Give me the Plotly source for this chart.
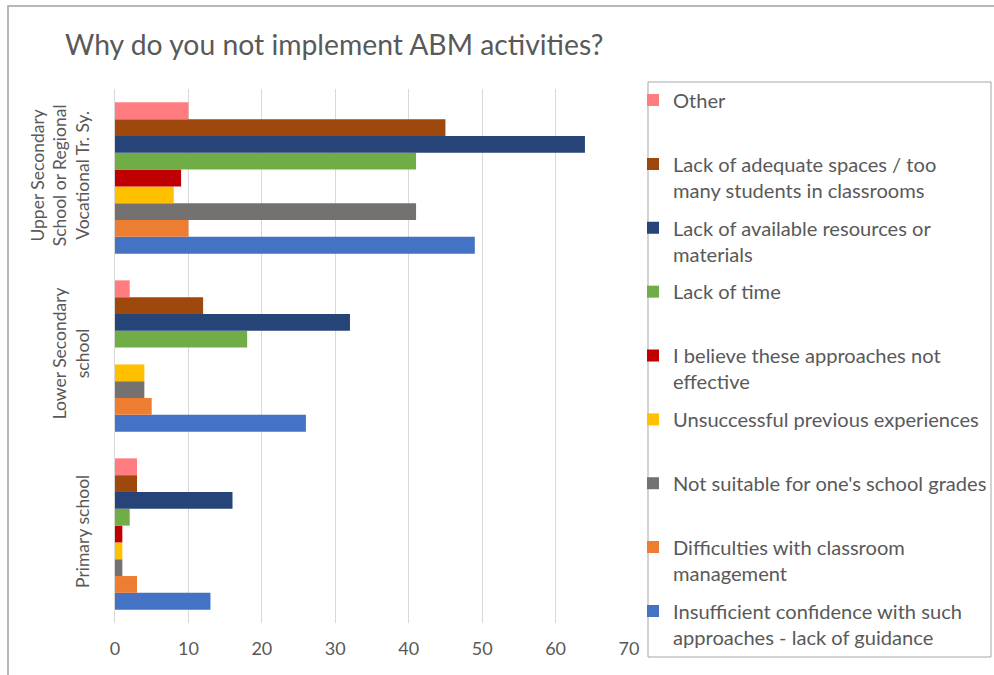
import plotly.graph_objects as go

categories = ["Primary school", "Lower Secondary<br>school", "Upper Secondary<br>School or Regional<br>Vocational Tr. Sy."]

# series listed bottom-to-top within each group
series_names = [
    "Insufficient confidence with such<br>approaches - lack of guidance",
    "Difficulties with classroom<br>management",
    "Not suitable for one's school grades<br> ",
    "Unsuccessful previous experiences<br> ",
    "I believe these approaches not<br>effective",
    "Lack of time<br> ",
    "Lack of available resources or<br>materials",
    "Lack of adequate spaces / too<br>many students in classrooms",
    "Other<br> ",
]
insufficient = [13, 26, 49]
difficulties = [3, 5, 10]
not_suitable = [1, 4, 41]
unsuccessful = [1, 4, 8]
not_effective = [1, 0, 9]
lack_time = [2, 18, 41]
lack_resources = [16, 32, 64]
lack_spaces = [3, 12, 45]
other = [3, 2, 10]
series_values = [insufficient, difficulties, not_suitable, unsuccessful, not_effective,
                 lack_time, lack_resources, lack_spaces, other]
colors = ["#4472C4", "#ED7D31", "#767171", "#FFC000", "#C00000",
          "#70AD47", "#264478", "#9E480E", "#FF7C80"]

x_ticks = [0, 10, 20, 30, 40, 50, 60, 70]

FONT = "Lato, 'Open Sans', sans-serif"
GRAY = "#595959"

fig = go.Figure()
n = len(series_names)
for i, (name, vals, col) in enumerate(zip(series_names, series_values, colors)):
    fig.add_trace(go.Bar(
        y=categories, x=vals, name=name, orientation="h",
        marker=dict(color=col, line=dict(width=0)),
        legendgroup=f"g{i}", legendrank=n - i,
    ))

W, H = 994, 675
L, T = 115, 89
R = W - 629
B = H - 623
pw, ph = W - L - R, H - T - B

def px2x(p):
    return (p - L) / pw

def py2y(p):
    return (H - B - p) / ph

fig.update_layout(
    width=W, height=H,
    margin=dict(l=L, r=R, t=T, b=B, autoexpand=False),
    paper_bgcolor="white", plot_bgcolor="white",
    barmode="group", bargap=0.15, bargroupgap=0,
    font=dict(family=FONT, color=GRAY, size=16),
    title=dict(text="Why do you not implement ABM activities?",
               x=65 / W, xanchor="left",
               y=1 - 45 / H, yanchor="middle",
               font=dict(family=FONT, size=28.3, color=GRAY)),
    xaxis=dict(range=[0, 70], tickvals=x_ticks, showgrid=True, gridcolor="#d9d9d9",
               gridwidth=1, zeroline=False, showline=False, ticklabelstandoff=13,
               tickfont=dict(size=18, color=GRAY), ticks=""),
    yaxis=dict(tickangle=-90, showgrid=False, zeroline=False, showline=True,
               linecolor="#d9d9d9", linewidth=1, ticks="", ticklabelstandoff=18,
               tickfont=dict(size=17.5, color=GRAY)),
    legend=dict(x=px2x(633), xanchor="left", y=py2y(80.5), yanchor="top",
                borderwidth=0, bgcolor="rgba(255,255,255,0)",
                traceorder="grouped", tracegroupgap=8.6, valign="top", maxheight=660,
                font=dict(family=FONT, size=20.1, color=GRAY)),
    shapes=[
        dict(type="rect", xref="paper", yref="paper",
             x0=px2x(8), x1=px2x(1010), y0=py2y(700), y1=py2y(6),
             line=dict(color="#a0a0a0", width=1.5), fillcolor="rgba(0,0,0,0)",
             layer="below"),
        dict(type="rect", xref="paper", yref="paper",
             x0=px2x(648), x1=px2x(991), y0=py2y(657), y1=py2y(82),
             line=dict(color="#a6a6a6", width=1), fillcolor="rgba(0,0,0,0)",
             layer="below"),
    ],
)

fig.write_html(
    "out.html",
    config={"displayModeBar": False},
    post_script="document.body.style.margin='0';"
                "document.body.style.overflow='hidden';"
                "document.documentElement.style.overflow='hidden';",
)
